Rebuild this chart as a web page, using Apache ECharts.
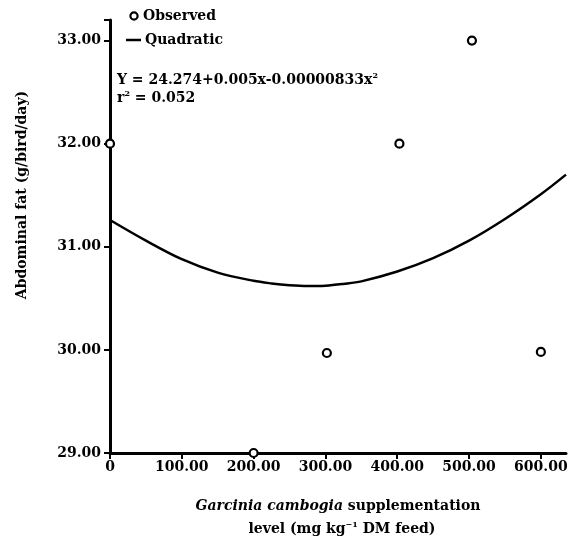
<!DOCTYPE html>
<html>
<head>
<meta charset="utf-8">
<script src="https://cdn.jsdelivr.net/npm/echarts@6/dist/echarts.min.js"></script>
<style>html,body{margin:0;padding:0;background:#fff}#c{width:574px;height:542px}</style>
</head>
<body>
<div id="c"></div>
<script>
// Observed data
const obsX = [0, 200, 302, 403, 504, 600];
const obsY = [32.0, 29.0, 29.97, 32.0, 33.0, 29.98];
// Quadratic fit curve as drawn
const fitX = [0, 50, 100, 150, 200, 225, 250, 275, 300, 325, 350, 400, 450, 500, 550, 600, 635];
const fitY = [31.26, 31.06, 30.88, 30.75, 30.67, 30.645, 30.628, 30.62, 30.623, 30.64, 30.665, 30.76, 30.89, 31.06, 31.27, 31.51, 31.70];
// Axis ticks
const xTicks = [0, 100, 200, 300, 400, 500, 600];
const yTicks = [29, 30, 31, 32, 33];
// Legend / annotation texts
const legendNames = ['Observed', 'Quadratic'];

const FONT = 'DejaVu Serif';
const chart = echarts.init(document.getElementById('c'), null, {renderer: 'canvas'});
chart.setOption({
  animation: false,
  backgroundColor: '#fff',
  grid: {left: 110, right: 8, top: 20, bottom: 89, containLabel: false},
  xAxis: {
    type: 'value', min: 0, max: 635, interval: 100,
    axisLine: {onZero: false, lineStyle: {color: '#000', width: 3}},
    axisTick: {show: true, length: 6, lineStyle: {color: '#000', width: 2}},
    splitLine: {show: false},
    axisLabel: {
      color: '#000', fontFamily: FONT, fontWeight: 'bold', fontSize: 14, margin: 7,
      showMaxLabel: false,
      formatter: v => xTicks.includes(v) ? (v === 0 ? '0' : v.toFixed(2)) : ''
    }
  },
  yAxis: {
    type: 'value', min: 29, max: 33.2, interval: 1,
    axisLine: {onZero: false, lineStyle: {color: '#000', width: 3}},
    axisTick: {show: true, length: 6, lineStyle: {color: '#000', width: 2}},
    splitLine: {show: false},
    axisLabel: {
      color: '#000', fontFamily: FONT, fontWeight: 'bold', fontSize: 14, margin: 9,
      formatter: v => yTicks.includes(v) ? v.toFixed(2) : ''
    }
  },
  series: [
    {
      name: legendNames[1], type: 'line', smooth: 0.35, symbol: 'none',
      data: fitX.map((x, i) => [x, fitY[i]]),
      lineStyle: {color: '#000', width: 2.5}, itemStyle: {color: '#000'}, z: 2
    },
    {
      name: legendNames[0], type: 'scatter', symbol: 'circle', symbolSize: 8,
      data: obsX.map((x, i) => [x, obsY[i]]),
      itemStyle: {color: '#fff', borderColor: '#000', borderWidth: 2.2, opacity: 1}, z: 5
    }
  ],
  graphic: [
    // legend
    {type: 'circle', shape: {cx: 134, cy: 16, r: 3.6}, style: {fill: '#fff', stroke: '#000', lineWidth: 2.2}},
    {type: 'text', x: 143, y: 16, style: {text: legendNames[0], fontFamily: FONT, fontWeight: 'bold', fontSize: 14, fill: '#000', verticalAlign: 'middle'}},
    {type: 'line', shape: {x1: 126, y1: 40, x2: 141, y2: 40}, style: {stroke: '#000', lineWidth: 2.5}},
    {type: 'text', x: 145, y: 40, style: {text: legendNames[1], fontFamily: FONT, fontWeight: 'bold', fontSize: 14, fill: '#000', verticalAlign: 'middle'}},
    {
      type: 'text', left: 117, top: 72,
      style: {
        rich: {
          a: {fontFamily: FONT, fontWeight: 'bold', fontSize: 14, fill: '#000'},
          s: {fontFamily: FONT, fontWeight: 'bold', fontSize: 8, fill: '#000', padding: [0,0,8,0]}
        },
        text: '{a|Y = 24.274+0.005x-0.00000833x}{s|2}'
      }
    },
    {
      type: 'text', left: 117, top: 90,
      style: {
        rich: {
          a: {fontFamily: FONT, fontWeight: 'bold', fontSize: 14, fill: '#000'},
          s: {fontFamily: FONT, fontWeight: 'bold', fontSize: 8, fill: '#000', padding: [0,0,8,0]}
        },
        text: '{a|r}{s|2}{a| = 0.052}'
      }
    },
    {
      type: 'text', x: 22, y: 195, rotation: Math.PI / 2,
      style: {
        text: 'Abdominal fat (g/bird/day)', fontFamily: FONT, fontWeight: 'bold', fontSize: 14,
        fill: '#000', align: 'center', verticalAlign: 'middle'
      }
    },
    {
      type: 'text', x: 338, y: 506,
      style: {
        rich: {
          i: {fontFamily: FONT, fontWeight: 'bold', fontStyle: 'italic', fontSize: 14, fill: '#000'},
          n: {fontFamily: FONT, fontWeight: 'bold', fontSize: 14, fill: '#000'}
        },
        text: '{i|Garcinia cambogia}{n| supplementation}',
        align: 'center', verticalAlign: 'middle'
      }
    },
    {
      type: 'text', x: 342, y: 529,
      style: {
        rich: {
          n: {fontFamily: FONT, fontWeight: 'bold', fontSize: 14, fill: '#000'},
          s: {fontFamily: FONT, fontWeight: 'bold', fontSize: 8, fill: '#000', padding: [0,0,8,0]}
        },
        text: '{n|level (mg kg}{s|−1}{n| DM feed)}',
        align: 'center', verticalAlign: 'middle'
      }
    }
  ]
});
</script>
</body>
</html>
